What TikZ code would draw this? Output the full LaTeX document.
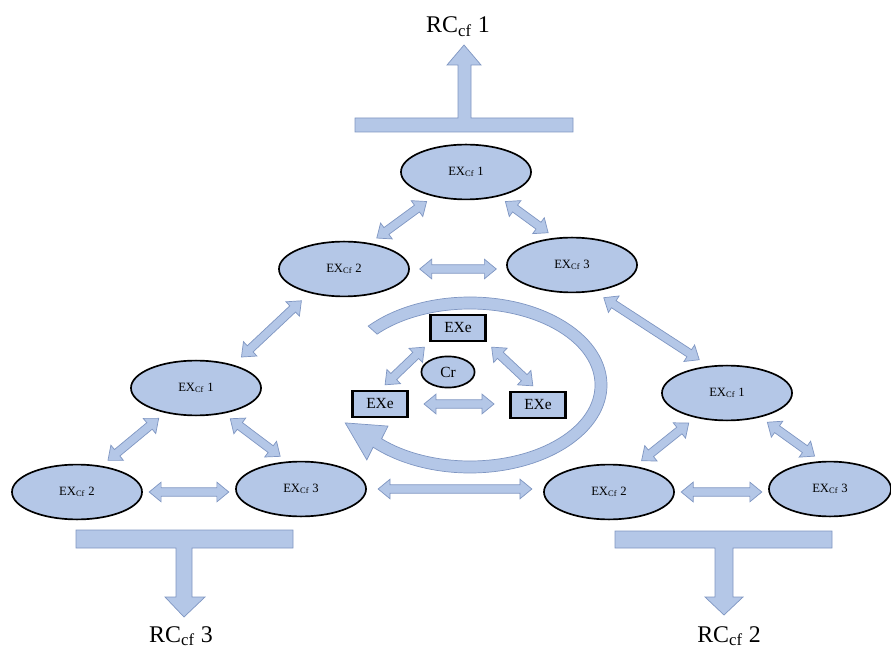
\documentclass[tikz,border=0pt]{standalone}
\usepackage{fontspec}
\setmainfont{Liberation Serif}
\usepackage{xcolor}
\definecolor{cellfill}{HTML}{B4C7E7}
\definecolor{arrowfill}{HTML}{B4C7E7}
\definecolor{arrowedge}{HTML}{7F96C2}
\usepackage{tikz}
\usetikzlibrary{calc,shapes.geometric}
% two-headed block arrow between two anchors, #1 = gap at each end
\newcommand{\dblarrow}[3][6pt]{%
  \filldraw[blockarrow] let \p1=(#2), \p2=(#3),
    \n1={atan2(\y2-\y1,\x2-\x1)} in
    ($(\p1)+(\n1:#1)$)
    -- ($(\p1)+(\n1:#1)+(\n1:8.5pt)+(\n1+90:7pt)$)
    -- ($(\p1)+(\n1:#1)+(\n1:8.5pt)+(\n1+90:3pt)$)
    -- ($(\p2)+(\n1+180:#1)+(\n1+180:8.5pt)+(\n1+90:3pt)$)
    -- ($(\p2)+(\n1+180:#1)+(\n1+180:8.5pt)+(\n1+90:7pt)$)
    -- ($(\p2)+(\n1+180:#1)$)
    -- ($(\p2)+(\n1+180:#1)+(\n1+180:8.5pt)+(\n1-90:7pt)$)
    -- ($(\p2)+(\n1+180:#1)+(\n1+180:8.5pt)+(\n1-90:3pt)$)
    -- ($(\p1)+(\n1:#1)+(\n1:8.5pt)+(\n1-90:3pt)$)
    -- ($(\p1)+(\n1:#1)+(\n1:8.5pt)+(\n1-90:7pt)$)
    -- cycle;}

\begin{document}
\begin{tikzpicture}[x=0.025cm, y=0.025cm,
  excell/.style={ellipse, draw=black, line width=1.2pt, fill=cellfill,
    minimum width=3.25cm, minimum height=1.37cm, inner sep=0pt,
    font=\fontsize{9}{11}\selectfont},
  exbox/.style={rectangle, draw=black, line width=1.6pt, fill=cellfill,
    minimum width=1.37cm, minimum height=0.66cm, inner sep=0pt,
    font=\fontsize{11}{13}\selectfont},
  blockarrow/.style={fill=arrowfill, draw=arrowedge, line width=0.5pt},
  rclabel/.style={anchor=base, font=\fontsize{17}{20}\selectfont}]
  \useasboundingbox (0,0) rectangle (891,651);

  % output bars
  \filldraw[blockarrow] (355,519) -- (573,519) -- (573,533) -- (471,533)
    -- (471,586) -- (481,586) -- (464,606) -- (447,586) -- (458,586)
    -- (458,533) -- (355,533) -- cycle;
  \filldraw[blockarrow] (76,121) -- (293,121) -- (293,103) -- (192,103)
    -- (192,54) -- (205,54) -- (184,34) -- (165,54) -- (176,54)
    -- (176,103) -- (76,103) -- cycle;
  \filldraw[blockarrow] (615,120) -- (832,120) -- (832,103) -- (733,103)
    -- (733,54) -- (743,54) -- (724,36) -- (705,54) -- (715,54)
    -- (715,103) -- (615,103) -- cycle;
  \node[rclabel] (rc1) at (458,618) {RC\textsubscript{cf} 1};
  \node[rclabel] (rc3) at (181,9) {RC\textsubscript{cf} 3};
  \node[rclabel] (rc2) at (729,9) {RC\textsubscript{cf} 2};

  % rotating arrow round the core
  \coordinate (ring) at (470,266);
  \filldraw[blockarrow] ($(ring)+(138:137 and 88)$)
    arc[start angle=138, end angle=-135, x radius=137, y radius=88]
    -- (366.8,191.1) -- (345.2,228.1) -- (388.0,224.9)
    -- ($(ring)+(-135:125 and 76)$)
    arc[start angle=-135, end angle=138, x radius=125, y radius=76] -- cycle;

  % top group
  \node[excell] (t1) at (466,479) {EX\textsubscript{Cf} 1};
  \node[excell] (t2) at (344,382) {EX\textsubscript{Cf} 2};
  \node[excell] (t3) at (572,386) {EX\textsubscript{Cf} 3};
  % left group
  \node[excell] (l1) at (196,263) {EX\textsubscript{Cf} 1};
  \node[excell] (l2) at (77,159) {EX\textsubscript{Cf} 2};
  \node[excell] (l3) at (301,162) {EX\textsubscript{Cf} 3};
  % right group
  \node[excell] (r1) at (727,258) {EX\textsubscript{Cf} 1};
  \node[excell] (r2) at (609,159) {EX\textsubscript{Cf} 2};
  \node[excell, minimum width=3.05cm] (r3) at (830,162) {EX\textsubscript{Cf} 3};
  % core
  \node[exbox] (e1) at (458,323) {EXe};
  \node[exbox] (e2) at (380,247) {EXe};
  \node[exbox] (e3) at (538,246) {EXe};
  \node[ellipse, draw=black, line width=1.2pt, fill=cellfill,
    minimum width=1.33cm, minimum height=0.78cm, inner sep=0pt,
    font=\fontsize{11}{13}\selectfont] (cr) at (448,279) {Cr};

  \dblarrow{t1.217}{t2.45}
  \dblarrow{t1.323}{t3.122}
  \dblarrow[7pt]{t2.east}{t2.east -| t3.west}
  \dblarrow[8pt]{t2.215}{l1.32}
  \dblarrow[8pt]{t3.310}{r1.124}
  \dblarrow{l1.219}{l2.47}
  \dblarrow{l1.317}{l3.117}
  \dblarrow[4.5pt]{l2.east}{l2.east -| l3.west}
  \dblarrow[8pt]{l3.east}{l3.east -| r2.west}
  \dblarrow{r1.218}{r2.45}
  \dblarrow{r1.324}{r3.107}
  \dblarrow[4.5pt]{r2.east}{r2.east -| r3.west}
  \dblarrow[5pt]{e1.south west}{e2.north}
  \dblarrow[5pt]{e1.south east}{e3.north}
  \dblarrow[11pt]{e2.east}{e2.east -| e3.west}
\end{tikzpicture}
\end{document}
